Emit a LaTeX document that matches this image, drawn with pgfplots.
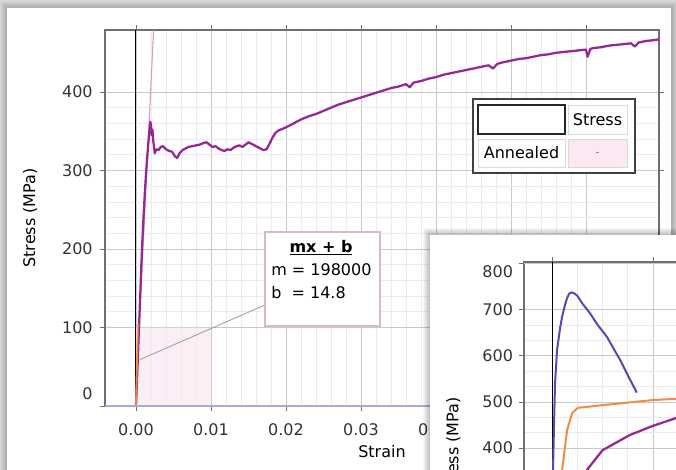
\documentclass[border=0pt]{standalone}
\usepackage{fontspec}
\setmainfont{DejaVu Sans}
\usepackage{pgfplots}
\pgfplotsset{compat=1.18}

\definecolor{annealed}{RGB}{150,40,150}
\definecolor{fitpink}{RGB}{225,150,195}
\definecolor{selpink}{RGB}{250,232,242}
\definecolor{brittle}{RGB}{85,75,175}
\definecolor{steel}{RGB}{240,140,70}
\definecolor{majgrid}{RGB}{200,200,205}
\definecolor{mingrid}{RGB}{234,234,240}
\definecolor{frame}{RGB}{110,110,115}
\definecolor{winbg}{RGB}{214,214,214}
\definecolor{lavender}{RGB}{170,170,215}
\definecolor{boxline}{RGB}{215,185,200}

\pgfplotsset{
  win/.style={
    scale only axis, anchor=north west,
    axis line style={draw=frame, line width=1.5pt},
    tick align=outside, major tick length=3.75pt, minor tick length=0pt,
    tick style={draw=frame, line width=0.6pt},
    grid=both, major grid style={majgrid, line width=0.6pt},
    minor grid style={mingrid, line width=0.5pt},
    /pgf/number format/assume math mode=true,
    label style={font=\fontsize{12}{14}\selectfont},
    tick label style={font=\fontsize{12}{14}\selectfont, text=black!80},
  }
}

\begin{document}
\begin{tikzpicture}[x=0.75pt, y=-0.75pt, font=\fontsize{12}{14}\selectfont]
\useasboundingbox (0,0) rectangle (676,470);
\clip (0,0) rectangle (676,470);
% window behind
\fill[winbg] (0,0) rectangle (676,470);
\foreach \i in {1,...,6} \fill[black, opacity=0.03] (7-\i,8-\i) rectangle (671+\i,480);
\fill[white] (7,8) rectangle (671,480);

\begin{axis}[win,
  at={(78.75pt,-22.5pt)}, width=415.5pt, height=282pt,
  xmin=-0.004133, xmax=0.06973, ymin=0, ymax=479,
  xtick={0,0.01,0.02,0.03,0.04,0.05,0.06},
  ytick={100,200,300,400},
  extra y ticks={0}, extra y tick style={tick label style={yshift=9pt}},
  minor x tick num=4, minor y tick num=4,
  scaled x ticks=false,
  x tick label style={/pgf/number format/fixed, /pgf/number format/fixed zerofill,
    /pgf/number format/precision=2, yshift=-6pt},
  y tick label style={xshift=-2pt},
  xlabel={Strain}, ylabel={Stress (MPa)},
  xlabel style={at={(axis description cs:0.5,0)}, anchor=center, yshift=-34.5pt},
  ylabel style={at={(axis description cs:-0.135,0.5)}, anchor=center},
]
% selected fit region
\addplot[draw=none, fill=selpink, fill opacity=0.7] coordinates {(0,0) (0.01,0) (0.01,100) (0,100)} \closedcycle;
% zero line
\addplot[black, line width=0.75pt] coordinates {(0,0) (0,479)};
% linear fit mx+b
\addplot[fitpink, line width=0.8pt] coordinates {(-0.0000747,0) (0.002345,479)};
% connector to the fit box
\addplot[gray!80, line width=0.6pt] coordinates {(0.0005,59) (0.0172,128.7)};
% annealed sample
\addplot[annealed, line width=1.7pt, line join=round] coordinates {
(0,0) (0.0002,50) (0.0004,100) (0.0006,150) (0.0008,200) (0.0010,240)
(0.0012,275) (0.0014,305) (0.0016,330) (0.0018,352) (0.0019,362) (0.0020,358)
(0.0021,345) (0.0022,352) (0.0023,338) (0.0024,330) (0.0025,322) (0.0027,327)
(0.0030,326) (0.0033,330) (0.0036,331) (0.0040,327) (0.0044,325) (0.0048,324)
(0.0052,318) (0.0055,316) (0.0058,322) (0.0062,326) (0.0066,328) (0.0070,330)
(0.0075,331) (0.0080,332) (0.0085,333) (0.0090,335) (0.0094,336) (0.0098,333)
(0.0102,330) (0.0106,331) (0.0110,328) (0.0114,326) (0.0118,325) (0.0122,327)
(0.0126,326) (0.0130,329) (0.0134,331) (0.0138,332) (0.0142,330) (0.0146,333)
(0.0150,336) (0.0154,334) (0.0158,332) (0.0162,330) (0.0166,328) (0.0170,326)
(0.0174,327) (0.0178,334) (0.0182,342) (0.0186,348) (0.0190,351) (0.0195,353)
(0.0200,355) (0.0210,360) (0.0220,365) (0.0230,369) (0.0240,372) (0.0250,376)
(0.0260,380) (0.0270,384) (0.0280,387) (0.0290,390) (0.0300,393) (0.0310,396)
(0.0320,399) (0.0330,402) (0.0340,405) (0.0350,407) (0.0360,410) (0.0365,406)
(0.0370,412) (0.0380,414) (0.0390,417) (0.0400,419) (0.0410,422) (0.0420,424)
(0.0430,426) (0.0440,428) (0.0450,430) (0.0460,432) (0.0470,434) (0.0476,430)
(0.0482,436) (0.0490,438) (0.0500,440) (0.0510,442) (0.0520,443) (0.0530,445)
(0.0540,447) (0.0550,448) (0.0560,450) (0.0570,451) (0.0580,452) (0.0590,453)
(0.0600,454) (0.0602,445) (0.0606,455) (0.0610,456) (0.0620,457) (0.0630,459)
(0.0640,460) (0.0650,461) (0.0660,462) (0.0665,458) (0.0670,463) (0.0680,465)
(0.0690,466) (0.0697,467)};
% selected elastic segment
\addplot[steel!80!yellow, line width=1.4pt, opacity=0.8] coordinates {(0,0) (0.00025,105)};
\end{axis}
% bottom axis edge
\draw[line width=1.5pt, lavender] (105,406) -- (659,406);

% legend table
\fill[white] (473,99) rectangle (635,173);
\draw[line width=1.5pt, black!75] (473,99) rectangle (635,173);
\draw[black!85, line width=1.3pt] (478,105) rectangle (565,134);
\draw[black!15] (568,105) rectangle (627,134);
\node at (597.5,119.5) {Stress};
\draw[black!15] (478,139) rectangle (565,167);
\node at (521.5,153) {Annealed};
\filldraw[fill=selpink, draw=black!15] (568,139) rectangle (627,167);
\node[font=\tiny] at (597.5,153) {--};

% fit result box
\filldraw[fill=white, draw=boxline, line width=0.8pt] (265,232) rectangle (380,326);
\node at (321,248) {\underline{\textbf{mx + b}}};
\node[anchor=west, inner sep=0pt] at (271,270) {m = 198000};
\node[anchor=west, inner sep=0pt] at (271,293) {b \ = 14.8};

% second window
\foreach \i in {1,...,7} \fill[black, opacity=0.035] (430-\i,235-\i) rectangle (700,500);
\fill[white] (430,235) rectangle (700,500);

\begin{axis}[win,
  at={(393pt,-196.5pt)}, width=282pt, height=277.5pt,
  xmin=-0.005545, xmax=0.06891, ymin=0, ymax=804,
  xtick={0,0.02,0.04,0.06},
  ytick={400,500,600,700},
  extra y ticks={800}, extra y tick style={tick label style={yshift=-6pt}},
  minor x tick num=3, minor y tick num=2,
  scaled x ticks=false, xticklabels={},
  y tick label style={xshift=-1pt},
  ylabel={Stress (MPa)},
  ylabel style={at={(axis description cs:-0.188,0.5)}, anchor=center},
]
\addplot[black, line width=0.75pt] coordinates {(0,0) (0,804)};
\addplot[brittle, line width=1.5pt, line join=round] coordinates {
(0,0) (0.0001,150) (0.0002,352) (0.0004,450) (0.0006,540) (0.0010,613)
(0.0016,660) (0.0020,685) (0.0026,712) (0.0030,726) (0.0034,735) (0.0038,738)
(0.0044,736) (0.0050,731) (0.0060,714) (0.0075,693) (0.0090,668) (0.0109,641)
(0.0125,610) (0.0135,591) (0.0150,558) (0.0168,520)};
\addplot[steel, line width=1.5pt, line join=round] coordinates {
(0.0008,0) (0.0015,200) (0.0020,352) (0.0030,439) (0.0040,476) (0.0051,487)
(0.0101,493) (0.0200,504) (0.0300,510) (0.0400,514) (0.0600,518)};
\addplot[annealed, line width=1.7pt, line join=round] coordinates {
(0.0020,0) (0.0045,220) (0.0069,352) (0.0100,395) (0.0154,428) (0.0200,448)
(0.0246,465) (0.0300,478) (0.0400,495) (0.0500,505) (0.0680,515)};
\end{axis}
\end{tikzpicture}
\end{document}
